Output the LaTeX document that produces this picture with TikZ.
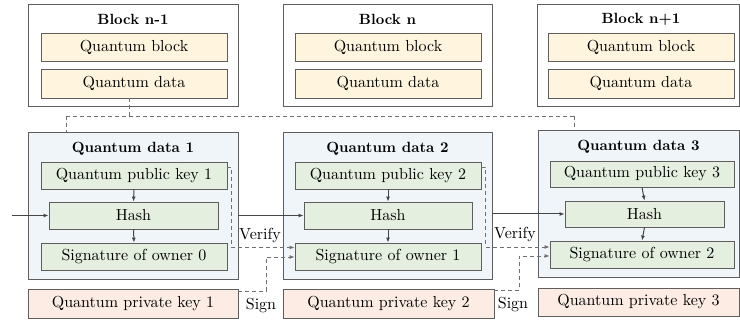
\documentclass[tikz,border=0pt]{standalone}
\usepackage{fontspec}
\setmainfont{lmroman10}[Extension=.otf, UprightFont=*-regular, BoldFont=*-bold, ItalicFont=*-italic, BoldItalicFont=*-bolditalic]
\usetikzlibrary{arrows.meta,calc}
\definecolor{bordc}{HTML}{5E5E5E}
\definecolor{linec}{HTML}{454545}
\definecolor{dashc}{HTML}{707070}
\definecolor{yelc}{HTML}{FFF5DF}
\definecolor{bluc}{HTML}{F0F5FA}
\definecolor{grnc}{HTML}{E5EFE0}
\definecolor{pchc}{HTML}{FCECE3}
\newcommand\bx[7]{\node[#6, minimum width={(#4-#2)*1pt}, minimum height={(#5-#3)*1pt}] (#1) at ({(#2+#4)/2},{(#3+#5)/2}) {#7};}
\begin{document}
\begin{tikzpicture}[x=1pt,y=-1pt,
  box/.style={draw=bordc, line width=0.8pt, inner sep=0pt, font=\fontsize{16}{18}\selectfont},
  outerbox/.style={box, fill=white},
  yelbox/.style={box, fill=yelc},
  blubox/.style={box, fill=bluc},
  grnbox/.style={box, fill=grnc},
  pchbox/.style={box, fill=pchc},
  title/.style={font=\fontsize{14.8}{17}\selectfont\bfseries, inner sep=0pt},
  lbl/.style={font=\fontsize{16}{18}\selectfont, inner sep=0pt},
  arr/.style={draw=linec, line width=1pt, -{Latex[length=5pt,width=4pt]}},
  dsh/.style={draw=dashc, line width=0.9pt, dash pattern=on 4pt off 3pt},
  darr/.style={dsh, -{Latex[length=5pt,width=4pt]}}]
\useasboundingbox (0,0) rectangle (740,320);

% top blocks
\bx{B1}{28}{4}{238}{106}{outerbox}{}
\bx{B2}{283}{4}{492}{106}{outerbox}{}
\bx{B3}{537}{4}{739}{106}{outerbox}{}
\node[title] (tb1) at (133,19) {Block n-1};
\node[title] (tb2) at (387.5,19) {Block n};
\node[title] (tb3) at (641,19) {Block n+1};
\bx{qb1}{41}{33}{227}{61}{yelbox}{Quantum block}
\bx{qd1}{41}{69}{227}{98}{yelbox}{Quantum data}
\bx{qb2}{295}{33}{481}{61}{yelbox}{Quantum block}
\bx{qd2}{295}{69}{481}{98}{yelbox}{Quantum data}
\bx{qb3}{548}{33}{734}{61}{yelbox}{Quantum block}
\bx{qd3}{548}{69}{734}{98}{yelbox}{Quantum data}

% quantum data boxes
\bx{D1}{28}{132}{238}{279}{blubox}{}
\bx{D2}{283}{132}{492}{279}{blubox}{}
\bx{D3}{538}{130}{739}{277}{blubox}{}
\node[title] (td1) at (133,149) {Quantum data 1};
\node[title] (td2) at (387.5,149) {Quantum data 2};
\node[title] (td3) at (638.5,147) {Quantum data 3};

\bx{pk1}{41}{162}{227}{189}{grnbox}{Quantum public key 1}
\bx{h1}{49}{202}{218}{229}{grnbox}{Hash}
\bx{s1}{41}{243}{227}{270}{grnbox}{Signature of owner 0}
\bx{pk2}{295}{162}{481}{189}{grnbox}{Quantum public key 2}
\bx{h2}{304}{202}{472}{229}{grnbox}{Hash}
\bx{s2}{295}{243}{481}{270}{grnbox}{Signature of owner 1}
\bx{pk3}{550}{161}{734}{187}{grnbox}{Quantum public key 3}
\bx{h3}{565}{201}{724}{227}{grnbox}{Hash}
\bx{s3}{550}{241}{734}{268}{grnbox}{Signature of owner 2}

\bx{pr1}{28}{289}{238}{318}{pchbox}{Quantum private key 1}
\bx{pr2}{283}{289}{494}{318}{pchbox}{Quantum private key 2}
\bx{pr3}{538}{288}{739}{316}{pchbox}{Quantum private key 3}

% internal arrows
\foreach \i in {1,2,3}{
  \draw[arr] (pk\i.south) -- (h\i.north);
  \draw[arr] (h\i.south) -- (s\i.north);
}

% chain arrows
\coordinate (in) at (12,215.5);
\draw[arr] (in) -- (h1.west);
\draw[arr] (D1.east |- h2.west) -- (h2.west);
\draw[arr] (D2.east |- h3.west) -- (h3.west);

% dashed link from block n-1
\coordinate (jm) at (129,116);
\coordinate (jl) at (66,116);
\coordinate (jr) at (574,116);
\draw[dsh] (qd1.south -| jm) -- (jm);
\draw[dsh] (jl) -- (jr);
\draw[dsh] (jl) -- (D1.north -| jl);
\draw[dsh] (jr) -- (D3.north -| jr);

% verify and sign
\draw[darr] ([yshift=8pt]pk1.east) -- ++(4,0) |- ([yshift=9pt]s2.west);
\draw[darr] ([yshift=12pt]pr1.east) -- ++(28,0) |- ([yshift=-0.5pt]s2.west);
\draw[darr] ([yshift=8pt]pk2.east) -- ++(4,0) |- ([yshift=7.5pt]s3.west);
\draw[darr] ([yshift=13pt]pr2.east) -- ++(25,0) |- ([yshift=-1.5pt]s3.west);
\node[lbl] (v1) at (260,236) {Verify};
\node[lbl] (v2) at (515,235) {Verify};
\node[lbl] (g1) at (261,306) {Sign};
\node[lbl] (g2) at (513,305) {Sign};
\end{tikzpicture}
\end{document}
